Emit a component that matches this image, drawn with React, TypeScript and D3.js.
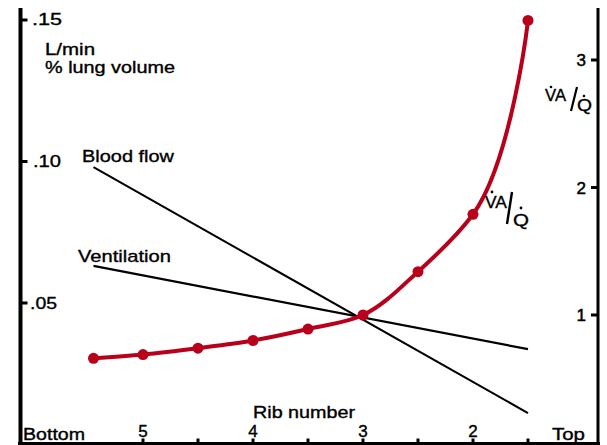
import React from "react";
import * as d3 from "d3";

const ribs = [5.45, 5, 4.5, 4, 3.5, 3, 2.5, 2, 1.5];
const vaq = [0.66, 0.69, 0.74, 0.8, 0.89, 1.0, 1.34, 1.79, 3.31];
const lineRibs = [5.45, 1.5];
const bloodFlow = [0.098, 0.0111];
const ventilation = [0.0631, 0.0337];
const leftTicks = [0.05, 0.1, 0.15];
const rightTicks = [1, 2, 3];
const ribTicks = [5, 4.5, 4, 3.5, 3, 2.5, 2, 1.5];
const ribLabels = [5, 4, 3, 2];

const RED = "#b8001a";
const FONT = "'Liberation Sans', Arial, Helvetica, sans-serif";

export default function App() {
  const W = 607, H = 445;
  const x = d3.scaleLinear().domain([5, 2]).range([143, 473]);
  const yL = d3.scaleLinear().domain([0, 0.15]).range([444.5, 20]);
  const yR = d3.scaleLinear().domain([0, 3]).range([442.5, 60]);
  const leftX = 20.5, rightX = 598, bottomY = 443.5, topY = 8;

  const curve = d3
    .line<number>()
    .x((_, i) => x(ribs[i]))
    .y((d) => yR(d))
    .curve(d3.curveCatmullRom.alpha(1))(vaq) as string;

  const straight = (vals: number[]) =>
    d3
      .line<number>()
      .x((_, i) => x(lineRibs[i]))
      .y((d) => yL(d))(vals) as string;

  const fmtL = (v: number) => d3.format(".2f")(v).replace(/^0/, "");

  const T = (props: any) => (
    <text
      fontFamily={FONT}
      fill="#000"
      stroke="#000"
      strokeWidth={0.35}
      lengthAdjust="spacingAndGlyphs"
      {...props}
    />
  );

  return (
    <svg
      width={W}
      height={H}
      style={{ position: "absolute", left: 0, top: 0, background: "#fff" }}
    >
      {/* axes */}
      <line x1={leftX} x2={leftX} y1={topY} y2={H} stroke="#000" strokeWidth={4} />
      <line x1={rightX} x2={rightX} y1={topY} y2={H} stroke="#000" strokeWidth={3} />
      <line x1={18} x2={600} y1={bottomY} y2={bottomY} stroke="#000" strokeWidth={3} />

      {/* left ticks */}
      {leftTicks.map((t) => (
        <line key={"l" + t} x1={leftX} x2={leftX + 7} y1={yL(t)} y2={yL(t)} stroke="#000" strokeWidth={3} />
      ))}
      <T x={32} y={25} fontSize={16} textLength={30}>{fmtL(0.15)}</T>
      <T x={33} y={167} fontSize={16} textLength={28}>{fmtL(0.1)}</T>
      <T x={30} y={309} fontSize={16} textLength={27}>{fmtL(0.05)}</T>

      {/* right ticks */}
      {rightTicks.map((t) => (
        <g key={"r" + t}>
          <line x1={rightX - 7} x2={rightX} y1={yR(t)} y2={yR(t)} stroke="#000" strokeWidth={3} />
          <T x={586} y={yR(t) + 6} fontSize={17} textAnchor="end" strokeWidth={0.5}>{t}</T>
        </g>
      ))}

      {/* bottom ticks */}
      {ribTicks.map((t) => (
        <rect key={"b" + t} x={x(t) - 1.5} y={bottomY - 5} width={3} height={5} fill="#000" />
      ))}
      {ribLabels.map((t) => (
        <T key={"bl" + t} x={x(t)} y={437} fontSize={17} textAnchor="middle" strokeWidth={0.4}>{t}</T>
      ))}
      <T x={23} y={440} fontSize={16} textLength={62}>Bottom</T>
      <T x={552} y={440} fontSize={16} textLength={33}>Top</T>
      <T x={253} y={418} fontSize={16} textLength={102}>Rib number</T>

      {/* units */}
      <T x={45} y={55} fontSize={16} textLength={50}>L/min</T>
      <T x={45} y={73} fontSize={16} textLength={130}>% lung volume</T>

      {/* straight lines */}
      <path d={straight(bloodFlow)} fill="none" stroke="#000" strokeWidth={2} />
      <path d={straight(ventilation)} fill="none" stroke="#000" strokeWidth={2.2} />
      <T x={82} y={162} fontSize={17} textLength={92}>Blood flow</T>
      <T x={78} y={262} fontSize={17} textLength={93}>Ventilation</T>

      {/* VA/Q curve */}
      <path d={curve} fill="none" stroke={RED} strokeWidth={4} strokeLinecap="round" />
      {vaq.map((v, i) => (
        <circle key={"p" + i} cx={x(ribs[i])} cy={yR(v)} r={5.5} fill={RED} />
      ))}

      {/* VA/Q label near curve */}
      <T x={485} y={208} fontSize={17} textLength={22}>VA</T>
      <circle cx={492} cy={192} r={1.4} fill="#000" />
      <line x1={512} y1={192} x2={507} y2={224} stroke="#000" strokeWidth={2.4} />
      <T x={513} y={226} fontSize={17} textLength={16}>Q</T>
      <circle cx={521} cy={208} r={1.4} fill="#000" />

      {/* VA/Q label on right axis */}
      <T x={545} y={101} fontSize={16} textLength={21}>VA</T>
      <circle cx={551} cy={87} r={1.3} fill="#000" />
      <line x1={577} y1={87} x2={571} y2={111} stroke="#000" strokeWidth={2.2} />
      <T x={577} y={111} fontSize={16} textLength={15}>Q</T>
      <circle cx={584} cy={96} r={1.3} fill="#000" />
    </svg>
  );
}
